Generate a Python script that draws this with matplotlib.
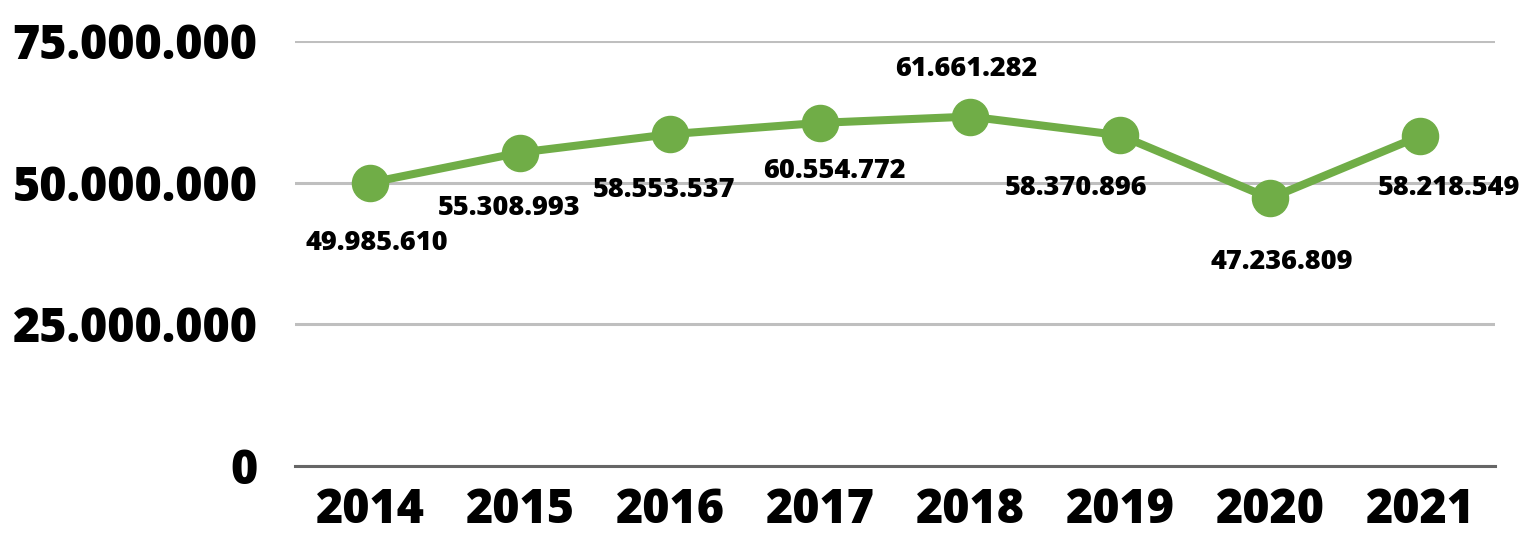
import matplotlib
matplotlib.use("Agg")
import matplotlib.pyplot as plt
from matplotlib.ticker import FixedLocator, FuncFormatter

years = ["2014", "2015", "2016", "2017", "2018", "2019", "2020", "2021"]
values = [49985610, 55308993, 58553537, 60554772, 61661282, 58370896, 47236809, 58218549]
yticks = [0, 25000000, 50000000, 75000000]

offsets = [(7, -60), (-11, -55), (-6, -56), (14, -48), (-4, 48), (-44, -53), (12, -64), (29, -52)]

def fmt(v):
    return f"{int(v):,}".replace(",", ".")

fig = plt.figure(figsize=(15.38, 5.41), dpi=100)
ax = fig.add_axes([295/1538, 75/541, 1200/1538, 425/541])
x = list(range(len(years)))
ax.plot(x, values, color="#70AD47", lw=5.8, marker="o", ms=26, solid_capstyle="round", zorder=3)
ax.set_xlim(-0.5, len(years) - 0.5)
ax.set_ylim(0, 75000000)
ax.yaxis.set_major_locator(FixedLocator(yticks))
ax.yaxis.set_major_formatter(FuncFormatter(lambda v, p: fmt(v)))
ax.set_xticks(x)
ax.set_xticklabels(years)
ax.grid(axis="y", color="#BFBFBF", lw=2.2)
ax.set_axisbelow(True)
for s in ["top", "right", "left"]:
    ax.spines[s].set_visible(False)
ax.spines["bottom"].set_color("#666666")
ax.spines["bottom"].set_linewidth(2.2)
ax.tick_params(length=0)
for t in ax.get_yticklabels():
    t.set_fontfamily("Open Sans")
    t.set_fontweight(800)
    t.set_fontsize(33.5)
for t in ax.get_xticklabels():
    t.set_fontfamily("Open Sans")
    t.set_fontweight(800)
    t.set_fontsize(33.5)
ax.tick_params(axis="y", pad=27)
ax.tick_params(axis="x", pad=15)

for xi, v, (dx, dy) in zip(x, values, offsets):
    ax.annotate(fmt(v), (xi, v), xytext=(dx / 1.389, dy / 1.389), textcoords="offset points",
                ha="center", va="center", fontsize=19.5, fontweight=800, family="Open Sans")

fig.savefig("out.png", dpi=100)
